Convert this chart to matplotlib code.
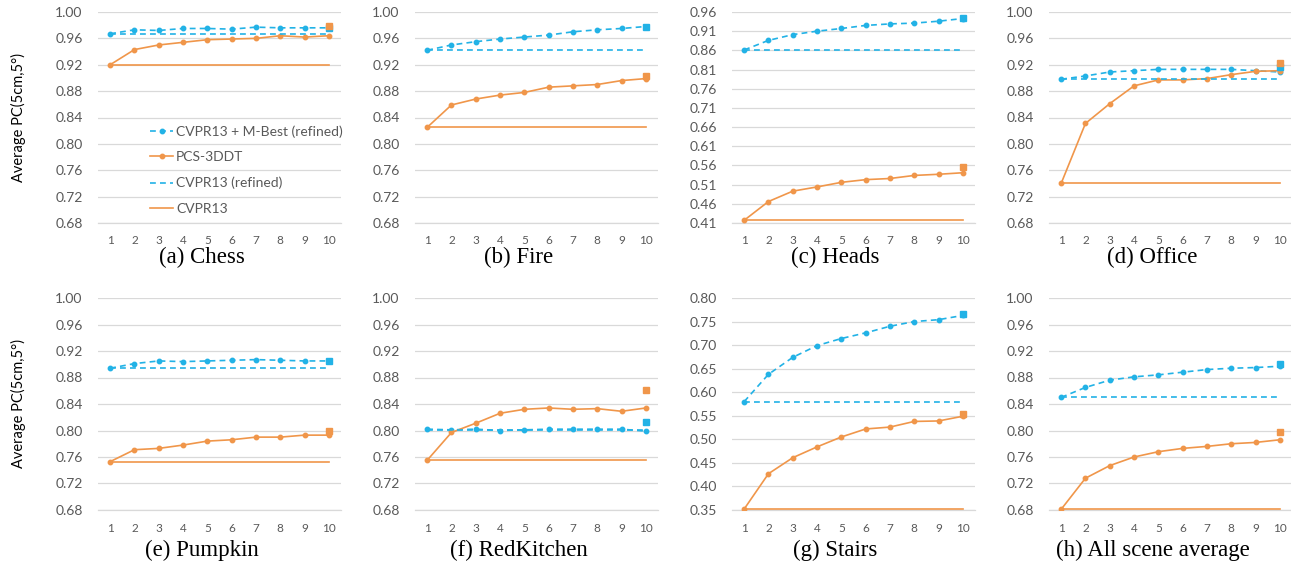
#!/usr/bin/env python3
"""Average PC(5cm,5deg) vs number of hypotheses, 8 scene panels."""

import numpy as np
import matplotlib.pyplot as plt

W, H = 1291, 564
X = np.arange(1, 11)
XLABELS = [str(v) for v in X]

SCENES = ["(a) Chess", "(b) Fire", "(c) Heads", "(d) Office",
          "(e) Pumpkin", "(f) RedKitchen", "(g) Stairs", "(h) All scene average"]

# CVPR13 + M-Best (refined)
mbest = [
    [0.967, 0.973, 0.972, 0.975, 0.975, 0.974, 0.977, 0.976, 0.976, 0.976],
    [0.942, 0.950, 0.955, 0.959, 0.962, 0.965, 0.970, 0.973, 0.975, 0.978],
    [0.861, 0.886, 0.901, 0.910, 0.917, 0.925, 0.929, 0.931, 0.936, 0.943],
    [0.898, 0.903, 0.909, 0.911, 0.913, 0.913, 0.913, 0.913, 0.911, 0.909],
    [0.894, 0.901, 0.905, 0.904, 0.905, 0.906, 0.907, 0.906, 0.905, 0.905],
    [0.802, 0.801, 0.802, 0.800, 0.801, 0.802, 0.802, 0.802, 0.802, 0.799],
    [0.580, 0.638, 0.674, 0.699, 0.714, 0.726, 0.740, 0.750, 0.754, 0.763],
    [0.850, 0.865, 0.876, 0.881, 0.884, 0.888, 0.892, 0.894, 0.895, 0.897],
]
# PCS-3DDT
pcs = [
    [0.920, 0.943, 0.950, 0.954, 0.958, 0.959, 0.960, 0.964, 0.962, 0.964],
    [0.825, 0.859, 0.868, 0.874, 0.878, 0.886, 0.888, 0.890, 0.896, 0.899],
    [0.417, 0.466, 0.493, 0.504, 0.516, 0.523, 0.526, 0.534, 0.537, 0.541],
    [0.740, 0.831, 0.861, 0.888, 0.897, 0.897, 0.899, 0.905, 0.910, 0.911],
    [0.753, 0.771, 0.773, 0.778, 0.784, 0.786, 0.790, 0.790, 0.793, 0.793],
    [0.755, 0.797, 0.811, 0.826, 0.832, 0.834, 0.832, 0.833, 0.829, 0.834],
    [0.352, 0.427, 0.461, 0.484, 0.505, 0.522, 0.526, 0.538, 0.539, 0.549],
    [0.681, 0.728, 0.747, 0.760, 0.768, 0.773, 0.776, 0.780, 0.782, 0.786],
]
# constant baselines
cvpr13_refined = [0.966, 0.942, 0.861, 0.899, 0.894, 0.801, 0.580, 0.850]
cvpr13 = [0.920, 0.825, 0.417, 0.740, 0.753, 0.755, 0.352, 0.681]
# extra square points at 10
blue_sq = [0.976, 0.978, 0.945, 0.917, 0.905, 0.813, 0.766, 0.901]
orange_sq = [0.979, 0.903, 0.557, 0.923, 0.800, 0.861, 0.553, 0.798]

YTICKS = [np.arange(0.68, 1.001, 0.04)] * 8
YTICKS[2] = np.arange(0.41, 0.961, 0.05)
YTICKS[6] = np.arange(0.35, 0.801, 0.05)

BLUE = "#22B2E6"
ORANGE = "#F0964A"
GRID = "#D9D9D9"
TXT = "#595959"
TICKFONT = "Lato"

fig = plt.figure(figsize=(W / 100, H / 100), dpi=100)

lefts = [98, 415, 732, 1049]
aw = 243
rows = [(12, 223), (298, 510)]

for i in range(8):
    r, c = divmod(i, 4)
    top, bot = rows[r]
    ax = fig.add_axes([lefts[c] / W, 1 - bot / H, aw / W, (bot - top) / H])
    yt = YTICKS[i]

    ax.plot(X, mbest[i], color=BLUE, ls=(0, (3.5, 2.5)), lw=1.2, marker="o", ms=3.2,
            label="CVPR13 + M-Best (refined)", zorder=3)
    ax.plot(X, pcs[i], color=ORANGE, lw=1.2, marker="o", ms=3.2,
            label="PCS-3DDT", zorder=3)
    ax.plot(X, [cvpr13_refined[i]] * 10, color=BLUE, ls=(0, (3.5, 2.5)), lw=1.2,
            label="CVPR13 (refined)", zorder=3)
    ax.plot(X, [cvpr13[i]] * 10, color=ORANGE, lw=1.2, label="CVPR13", zorder=3)
    ax.plot([10], [blue_sq[i]], ls="none", marker="s", ms=4.5, color=BLUE, zorder=4)
    ax.plot([10], [orange_sq[i]], ls="none", marker="s", ms=4.5, color=ORANGE, zorder=4)

    ax.set_xlim(0.5, 10.5)
    ax.set_ylim(yt[0], yt[-1])
    ax.set_yticks(yt)
    ax.set_yticklabels([f"{v:.2f}" for v in yt], fontsize=10, color=TXT, family=TICKFONT)
    ax.set_xticks(X)
    ax.set_xticklabels(XLABELS, fontsize=8.5, color=TXT, family=TICKFONT)
    ax.tick_params(axis="y", length=0, pad=11)
    ax.tick_params(axis="x", length=0, pad=9)
    ax.yaxis.grid(True, color=GRID, lw=0.9)
    ax.set_axisbelow(True)
    for s in ["top", "right", "left"]:
        ax.spines[s].set_visible(False)
    ax.spines["bottom"].set_color(GRID)
    ax.spines["bottom"].set_linewidth(0.9)
    ax.spines["bottom"].set_zorder(1)

    cx = (lefts[c] + aw / 2 - 18) / W
    cy = 1 - (257 if r == 0 else 550) / H
    fig.text(cx, cy, SCENES[i], ha="center", va="center", fontsize=16.5,
             family="Liberation Serif")

    if c == 0:
        fig.text(18 / W, 1 - (top + bot) / 2 / H, "Average PC(5cm,5°)", rotation=90,
                 ha="center", va="center", fontsize=10.5, family=TICKFONT)

    if i == 0:
        ax.legend(loc="upper left", bbox_to_anchor=(0.19, 0.49), frameon=False,
                  handlelength=1.7, handletextpad=0.2, labelspacing=0.98,
                  prop={"family": TICKFONT, "size": 10}, labelcolor=TXT,
                  borderaxespad=0)

fig.savefig("out.png", dpi=100)
